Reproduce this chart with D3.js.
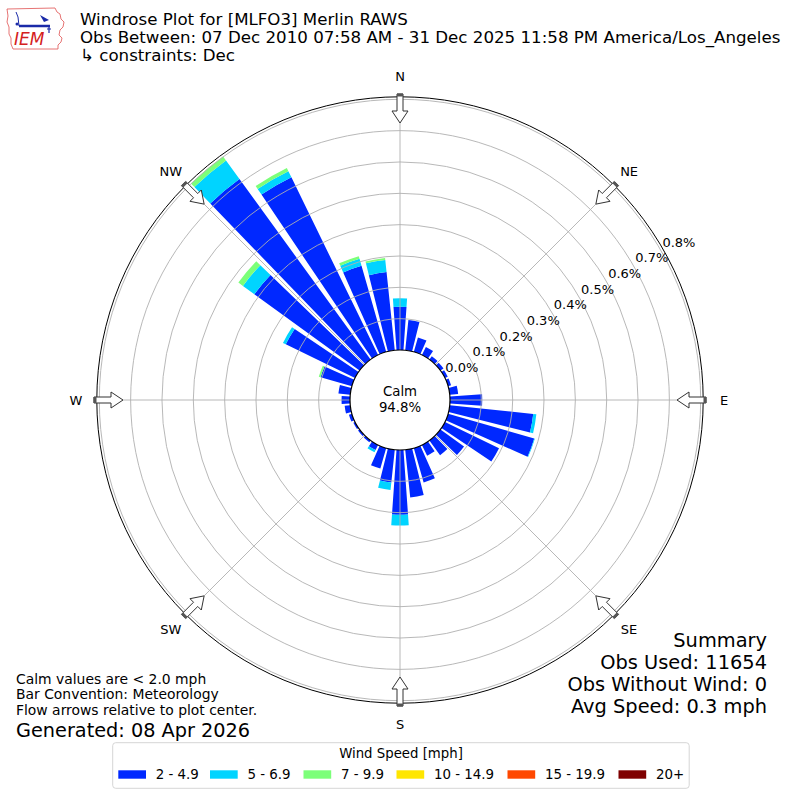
<!DOCTYPE html>
<html><head><meta charset="utf-8">
<script src="https://cdn.jsdelivr.net/npm/d3@7"></script>
<style>
body{margin:0;background:#fff}
svg{display:block}
text{font-family:"DejaVu Sans",sans-serif;fill:#000}
</style>
</head><body>
<svg id="chart" width="800" height="800"></svg>
<script>
// ---------------- data ----------------
const directions = [0,10,20,30,40,50,60,70,80,90,100,110,120,130,140,150,160,170,180,190,200,210,220,230,240,250,260,270,280,290,300,310,320,330,340,350];
const speedBins = ["2 - 4.9","5 - 6.9","7 - 9.9","10 - 14.9","15 - 19.9","20+"];
const binColors = ["#0028ff","#00d4ff","#7cff79","#ffe600","#ff4800","#7f0000"];
// frequency (%) per direction for each speed bin
const speed2to5   = [0.138,0.097,0.048,0.029,0.013,0.012,0.010,0.010,0.027,0.103,0.268,0.286,0.192,0.093,0.058,0.038,0.114,0.153,0.207,0.105,0.068,0.018,0.007,0.006,0.006,0.010,0.018,0.027,0.038,0.104,0.246,0.415,0.712,0.631,0.286,0.251];
const speed5to7   = [0.027,0,0,0,0,0,0,0,0,0,0.010,0.002,0,0,0,0,0,0,0.034,0.024,0,0.008,0,0,0,0,0,0,0,0,0.010,0.045,0.073,0.022,0.023,0.039];
const speed7to10  = [0,0,0,0,0,0,0,0,0,0,0,0,0,0,0,0,0,0,0,0,0,0,0,0,0,0,0,0,0,0.006,0,0.018,0.016,0.011,0.009,0.006];
const speed10to15 = [0,0,0,0,0,0,0,0,0,0,0,0,0,0,0,0,0,0,0,0,0,0,0,0,0,0,0,0,0,0,0,0,0,0,0,0];
const speed15to20 = [0,0,0,0,0,0,0,0,0,0,0,0,0,0,0,0,0,0,0,0,0,0,0,0,0,0,0,0,0,0,0,0,0,0,0,0];
const speed20plus = [0,0,0,0,0,0,0,0,0,0,0,0,0,0,0,0,0,0,0,0,0,0,0,0,0,0,0,0,0,0,0,0,0,0,0,0];
const radialTicks = [0.0,0.1,0.2,0.3,0.4,0.5,0.6,0.7,0.8];
const radialTickLabels = ["0.0%","0.1%","0.2%","0.3%","0.4%","0.5%","0.6%","0.7%","0.8%"];
const compassLabels = ["N","NE","E","SE","S","SW","W","NW"];
const compassAngles = [0,45,90,135,180,225,270,315];
const calmPct = "94.8%";
const titleLines = ["Windrose Plot for [MLFO3] Merlin RAWS","Obs Between: 07 Dec 2010 07:58 AM - 31 Dec 2025 11:58 PM America/Los_Angeles","\u21B3 constraints: Dec"];
const noteLines = ["Calm values are < 2.0 mph","Bar Convention: Meteorology","Flow arrows relative to plot center."];
const generatedText = "Generated: 08 Apr 2026";
const summaryLines = ["Summary","Obs Used: 11654","Obs Without Wind: 0","Avg Speed: 0.3 mph"];

// ---------------- drawing ----------------
const svg = d3.select("#chart");
const cx = 400, cy = 400;
const rScale = d3.scaleLinear().domain([0, 0.8]).range([50, 300.7]);
const rOuter = rScale(0.808);
const rad = d => d * Math.PI / 180;
const series = [speed2to5, speed5to7, speed7to10, speed10to15, speed15to20, speed20plus];

const g = svg.append("g").attr("transform", `translate(${cx},${cy})`);

// stacked bars
const arc = d3.arc();
const stacks = directions.map((dir, i) => {
  let base = 0;
  return series.map((s, k) => {
    const seg = {dir, k, y0: base, y1: base + s[i]};
    base += s[i];
    return seg;
  }).filter(seg => seg.y1 > seg.y0);
}).flat();

g.append("g").selectAll("path").data(stacks).join("path")
  .attr("d", d => arc({innerRadius: rScale(d.y0), outerRadius: rScale(d.y1),
                       startAngle: rad(d.dir - 4), endAngle: rad(d.dir + 4)}))
  .attr("fill", d => binColors[d.k]);

// grid rings (over bars)
const grid = g.append("g").attr("fill", "none").attr("stroke", "#b0b0b0").attr("stroke-width", 0.9);
grid.selectAll("circle").data(radialTicks.slice(1)).join("circle")
  .attr("r", d => rScale(d));
grid.selectAll("line").data(compassAngles).join("line")
  .attr("x1", d => rScale(0) * Math.sin(rad(d))).attr("y1", d => -rScale(0) * Math.cos(rad(d)))
  .attr("x2", d => rOuter * Math.sin(rad(d))).attr("y2", d => -rOuter * Math.cos(rad(d)));

// outer frame
g.append("circle").attr("r", rOuter).attr("fill", "none").attr("stroke", "#000").attr("stroke-width", 1);

// radial tick labels along 60deg
g.append("g").selectAll("text").data(radialTicks).join("text")
  .attr("x", d => rScale(d) * Math.sin(rad(60)) + 2)
  .attr("y", d => -rScale(d) * Math.cos(rad(60)) - 7.8)
  .attr("dy", "0.36em")
  .attr("font-size", 13)
  .text((d, i) => radialTickLabels[i]);

// calm circle
g.append("circle").attr("r", rScale(0)).attr("fill", "#fff").attr("stroke", "#000").attr("stroke-width", 1.2);
g.append("text").attr("x", 0).attr("y", -8.5).attr("dy", "0.36em").attr("text-anchor", "middle").attr("font-size", 13.3).text("Calm");
g.append("text").attr("x", 0).attr("y", 7.5).attr("dy", "0.36em").attr("text-anchor", "middle").attr("font-size", 13.3).text(calmPct);

// compass labels
g.append("g").selectAll("text").data(compassLabels).join("text")
  .attr("x", (d, i) => 324 * Math.sin(rad(compassAngles[i])))
  .attr("y", (d, i) => -324 * Math.cos(rad(compassAngles[i])))
  .attr("dy", "0.36em").attr("text-anchor", "middle").attr("font-size", 13)
  .text(d => d);

// flow arrows pointing toward centre
const arrowShape = [[-3,306],[3,306],[3,289],[8,289],[0,277],[-8,289],[-3,289]];
const tailShape = [[-3,303.5],[3,303.5],[3,306.5],[-3,306.5]];
const toXY = (th, s, t) => [t * Math.sin(rad(th)) + s * Math.cos(rad(th)), -t * Math.cos(rad(th)) + s * Math.sin(rad(th))];
const arrows = g.append("g");
compassAngles.forEach(th => {
  arrows.append("path")
    .attr("d", "M" + arrowShape.map(p => toXY(th, p[0], p[1]).join(",")).join("L") + "Z")
    .attr("fill", "#fff").attr("stroke", "#333").attr("stroke-width", 1);
  arrows.append("path")
    .attr("d", "M" + tailShape.map(p => toXY(th, p[0], p[1]).join(",")).join("L") + "Z")
    .attr("fill", "#555");
});

// titles
svg.append("g").selectAll("text").data(titleLines).join("text")
  .attr("x", 80).attr("y", (d, i) => 24.5 + i * 18.3).attr("font-size", 16.67)
  .text(d => d);

// notes bottom-left
svg.append("g").selectAll("text").data(noteLines).join("text")
  .attr("x", 16).attr("y", (d, i) => 683.5 + i * 15.6).attr("font-size", 13.9)
  .text(d => d);
svg.append("text").attr("x", 16).attr("y", 736.5).attr("font-size", 19.3).text(generatedText);

// summary right
svg.append("g").selectAll("text").data(summaryLines).join("text")
  .attr("x", 767).attr("y", (d, i) => 647 + i * 22).attr("font-size", 19.4).attr("text-anchor", "end")
  .text(d => d);

// legend
const lg = svg.append("g");
lg.append("rect").attr("x", 112.7).attr("y", 742.7).attr("width", 576.5).attr("height", 45.6).attr("rx", 3)
  .attr("fill", "#fff").attr("stroke", "#d6d6d6").attr("stroke-width", 1);
lg.append("text").attr("x", 401).attr("y", 757.7).attr("text-anchor", "middle").attr("font-size", 13.3).text("Wind Speed [mph]");
const legendX = [118.3, 210, 303.5, 396.5, 507.5, 618.5];
speedBins.forEach((b, i) => {
  lg.append("rect").attr("x", legendX[i]).attr("y", 770.3).attr("width", 27.7).attr("height", 8.4).attr("fill", binColors[i]);
  lg.append("text").attr("x", legendX[i] + 37.4).attr("y", 774.5).attr("dy", "0.36em").attr("font-size", 13.4).text(b);
});

// IEM logo (approximate)
const logo = svg.append("g");
logo.append("path")
  .attr("d", "M7,9 L55,8 L57,12 L60,14 L61,19 L64,22 L63,27 L60,30 L59,35 L62,38 L61,42 L58,45 L58,49 L13,49 L11,44 L11,38 L9,34 L9,27 L7,22 L8,16 Z")
  .attr("fill", "#fff").attr("stroke", "#e05050").attr("stroke-width", 0.8);
logo.append("path").attr("d", "M19,26 L50,26").attr("stroke", "#1a2aa8").attr("stroke-width", 2.5).attr("fill", "none");
logo.append("path").attr("d", "M19,26 L18,17 L16,12").attr("stroke", "#1a2aa8").attr("stroke-width", 1).attr("fill", "none");
logo.append("path").attr("d", "M40,15 L49,20 L44,22 Z").attr("fill", "#1a2aa8");
logo.append("path").attr("d", "M49,26 L49,33 M47,29 L51,29").attr("stroke", "#1a2aa8").attr("stroke-width", 1.2).attr("fill", "none");
logo.append("circle").attr("cx", 17).attr("cy", 24).attr("r", 1.5).attr("fill", "#1a2aa8");
logo.append("text").attr("x", 14).attr("y", 45).attr("font-family", "Liberation Serif, serif").attr("font-style", "italic")
  .attr("font-size", 17).style("fill", "#d42020").text("IEM");
</script>
</body></html>
